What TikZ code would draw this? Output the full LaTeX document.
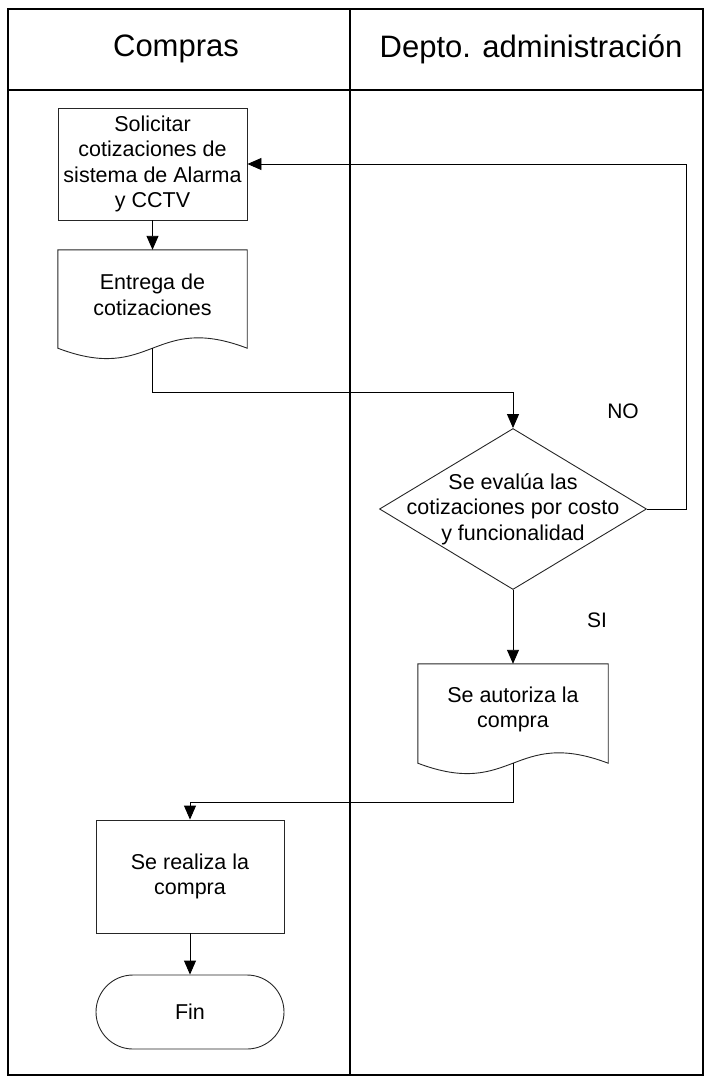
\documentclass[tikz,border=0pt]{standalone}
\usepackage{fontspec}
\setmainfont{Liberation Sans}
\usetikzlibrary{arrows.meta,shapes.geometric}
\begin{document}
\begin{tikzpicture}[x=1pt,y=-1pt,
  frame/.style={draw=black,line width=1.6pt},
  lane/.style={draw=black,line width=2pt},
  stepbox/.style={draw=black!85,line width=0.9pt,rectangle,inner sep=0pt,align=center,
     font=\fontsize{21.5}{25.5}\selectfont},
  doctext/.style={draw=none,rectangle,inner sep=0pt,align=center,
     font=\fontsize{21.5}{25.5}\selectfont},
  docline/.style={draw=black!85,line width=0.9pt},
  arr/.style={draw=black,line width=0.9pt,-{Triangle[width=12pt,length=14pt]}},
  lbl/.style={font=\fontsize{21}{24}\selectfont,inner sep=0pt},
  head/.style={font=\fontsize{31}{36}\selectfont,inner sep=0pt}]
\useasboundingbox (0,0) rectangle (704,1080);

% swimlane frame
\draw[frame] (8,9) rectangle (703,1075);
\draw[frame] (8,90) -- (703,90);
\draw[lane] (350,9) -- (350,1075);
\node[head] (hcomp) at (176,49) {Compras};
\node[head] (hadm) at (531,49) {Depto. administración};

% Compras lane
\node[stepbox,minimum width=189pt,minimum height=112pt] (box1) at (152.5,164)
  {Solicitar\\cotizaciones de\\sistema de Alarma\\y CCTV};
% document shape: text area plus a wavy bottom 8pt below it
\node[doctext,minimum width=189pt,minimum height=90pt] (doc1) at (152.5,295)
  {Entrega de\\cotizaciones};
\draw[docline] ([yshift=-8pt]doc1.south west) -- (doc1.north west) -- (doc1.north east)
  -- ([yshift=-8pt]doc1.south east)
  .. controls +(-94.5,-36) and +(94.5,36) .. ([yshift=-8pt]doc1.south west) -- cycle;

% Administration lane
\node[diamond,draw=black!85,line width=0.9pt,minimum width=267pt,minimum height=161pt,
  inner sep=0pt] (dec) at (513,509) {};
\node[doctext] (dect) at (dec) {Se evalúa las\\cotizaciones por costo\\y funcionalidad};
\node[doctext,minimum width=190pt,minimum height=91pt] (doc2) at (513,709.5)
  {Se autoriza la\\compra};
\draw[docline] ([yshift=-8pt]doc2.south west) -- (doc2.north west) -- (doc2.north east)
  -- ([yshift=-8pt]doc2.south east)
  .. controls +(-95,-36) and +(95,36) .. ([yshift=-8pt]doc2.south west) -- cycle;

% back in Compras
\node[stepbox,minimum width=188pt,minimum height=113pt] (box3) at (190,876.5)
  {Se realiza la\\compra};
\node[draw=black!85,line width=0.9pt,rectangle,rounded corners=37pt,minimum width=188pt,
  minimum height=74pt,font=\fontsize{21.5}{25.5}\selectfont] (fin) at (190,1012) {Fin};

% connectors
\draw[arr] (box1.south) -- (doc1.north);
\draw[arr] ([yshift=-8pt]doc1.south) -- ++(0,44) -| (dec.north);
\draw[arr] (dec.east) -- ++(39,0) |- (box1.east);
\draw[arr] (dec.south) -- (doc2.north);
\draw[arr] ([yshift=-8pt]doc2.south) -- ++(0,39) -| (box3.north);
\draw[arr] (box3.south) -- (fin.north);

\node[lbl] (no) at (623,411) {NO};
\node[lbl] (si) at (597,620) {SI};
\end{tikzpicture}
\end{document}
